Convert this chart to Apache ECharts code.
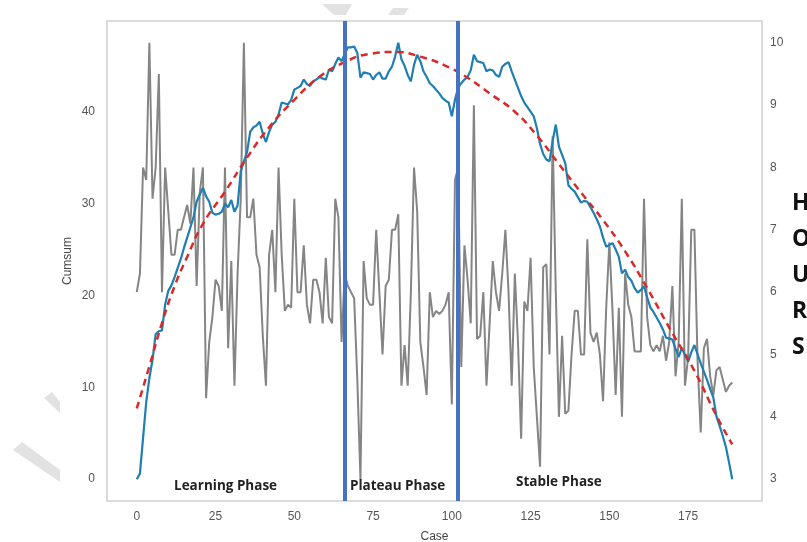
<!DOCTYPE html>
<html>
<head>
<meta charset="utf-8">
<script src="https://cdn.jsdelivr.net/npm/echarts@6/dist/echarts.min.js"></script>
<style>
html,body{margin:0;padding:0;background:#fff;}
#c{width:807px;height:542px;}
</style>
</head>
<body>
<div id="c"></div>
<script>
// Operating hours per case (right axis)
const hours = [
 6.0, 6.3, 8.0, 7.8, 10.0, 7.5, 8.0, 9.5, 6.0, 8.0,
 7.3, 6.6, 6.6, 7.0, 7.0, 7.2, 7.4, 7.1, 8.0, 6.1,
 7.6, 8.0, 4.3, 5.2, 5.6, 6.2, 6.1, 5.7, 8.0, 5.1,
 6.5, 4.5, 6.3, 7.5, 10.0, 7.2, 7.2, 7.5, 6.6, 6.4,
 5.3, 4.5, 6.6, 7.0, 6.0, 8.0, 6.6, 5.7, 5.8, 5.75,
 7.5, 6.0, 6.0, 6.75, 5.8, 5.5, 6.2, 6.2, 6.0, 5.5,
 6.55, 5.6, 5.5, 7.5, 7.2, 5.2, 6.3, 6.1, 6.0, 5.9,
 4.6, 3.0, 6.5, 5.9, 5.8, 5.8, 7.0, 6.0, 5.0, 6.1,
 6.2, 7.0, 7.0, 7.25, 4.5, 5.15, 4.5, 6.0, 8.0, 7.3,
 5.2, 4.8, 4.35, 6.0, 5.6, 5.7, 5.65, 5.7, 5.8, 6.0,
 4.2, 7.8, 8.0, 4.8, 6.75, 6.2, 5.5, 9.0, 5.25, 5.3,
 6.0, 4.5, 5.5, 6.5, 6.0, 5.7, 6.3, 7.0, 6.0, 4.5,
 6.3, 5.2, 3.65, 5.85, 5.7, 6.55, 4.8, 4.0, 3.2, 6.4,
 6.45, 5.0, 8.5, 6.0, 4.0, 5.3, 4.05, 4.1, 5.0, 5.7,
 5.7, 5.0, 5.0, 6.85, 5.35, 5.2, 5.35, 5.0, 4.25, 5.75,
 6.8, 5.7, 4.35, 5.75, 4.0, 6.3, 5.8, 5.6, 5.05, 5.05,
 5.05, 7.5, 5.6, 5.15, 5.05, 5.15, 5.05, 5.3, 4.9, 5.2,
 6.1, 4.65, 5.2, 7.5, 4.5, 4.95, 7.0, 7.0, 4.9, 3.75,
 5.1, 5.25, 4.65, 4.35, 4.75, 4.8, 4.6, 4.4, 4.5, 4.55
];
// CUSUM per case (left axis)
const cumsum = [
 0, 0.6, 4.5, 8.4, 11.0, 13.0, 15.8, 16.1, 16.2, 19.0,
 20.5, 21.1, 22.0, 23.0, 24.0, 25.2, 26.3, 27.4, 28.5, 30.2,
 31.0, 31.7, 30.8, 30.2, 29.0, 28.8, 28.9, 29.1, 30.0, 29.6,
 30.4, 29.1, 29.8, 33.5, 34.6, 35.6, 37.8, 38.3, 38.5, 38.9,
 37.6, 36.7, 37.8, 38.6, 38.9, 39.7, 41.0, 40.9, 40.8, 41.3,
 42.4, 42.6, 42.8, 43.5, 43.0, 42.8, 43.3, 43.5, 43.8, 43.6,
 43.5, 44.6, 44.4, 45.2, 45.9, 45.5, 46.3, 47.0, 47.0, 47.1,
 46.4, 43.7, 44.3, 44.2, 44.1, 43.5, 44.0, 44.3, 43.6, 43.6,
 44.4, 44.9, 46.0, 47.5, 45.7, 45.0, 44.0, 43.3, 45.1, 46.2,
 45.5, 44.4, 43.8, 43.1, 42.8, 42.4, 42.0, 41.5, 41.2, 41.0,
 39.5, 41.3, 42.6, 43.1, 43.5, 43.8, 44.5, 46.2, 45.5, 45.4,
 45.3, 44.4, 44.6, 44.5, 44.0, 43.8, 44.9, 45.2, 45.4, 44.4,
 43.5, 42.6, 41.7, 41.0, 40.5, 40.0, 39.5, 38.2, 36.5, 35.4,
 34.8, 34.6, 36.8, 38.6, 36.2, 35.3, 34.4, 32.0, 31.6, 31.3,
 30.7, 30.1, 30.3, 30.2, 29.6, 29.0, 28.3, 27.5, 26.3, 25.3,
 25.5, 25.7, 25.0, 24.2, 22.4, 22.8, 22.0, 21.6, 20.8, 20.3,
 20.6, 21.0, 19.8, 18.7, 18.2, 17.6, 17.0, 16.3, 15.4, 15.3,
 15.2, 14.2, 13.3, 14.3, 13.5, 12.8, 13.8, 14.6, 13.6, 12.6,
 11.7, 10.8, 9.8, 8.9, 6.8, 5.8, 4.7, 3.5, 1.8, 0.0
];
// Fitted trend curve, read at selected cases
const fitCases  = [0, 4, 8, 12, 16, 21, 28, 35, 42, 50, 58, 66, 74, 82, 90, 98, 105, 112, 120, 127, 134, 141, 148, 155, 162, 170, 177, 184, 189];
const fitValues = [7.7, 12.3, 17.0, 21.0, 24.2, 27.8, 31.3, 35.0, 38.3, 41.3, 43.8, 45.4, 46.3, 46.5, 46.0, 45.0, 43.7, 42.0, 40.0, 37.4, 34.3, 31.2, 28.2, 24.8, 20.8, 15.9, 11.8, 6.9, 3.8];
// Phase boundaries (case numbers)
const phaseBounds = [66, 102];
const phaseNames = ['Learning Phase', 'Plateau Phase', 'Stable Phase'];
const xTicks = [0, 25, 50, 75, 100, 125, 150, 175];
const leftTicks = [0, 10, 20, 30, 40];
const rightTicks = [3, 4, 5, 6, 7, 8, 9, 10];
const sideWord = ['H', 'O', 'U', 'R', 'S'];

const chart = echarts.init(document.getElementById('c'), null, {renderer: 'canvas'});
const lblColor = '#555';
const tickFont = 'Liberation Sans';

const graphics = [];
// watermark fragments
const wm = '#e2e2e2';
graphics.push({type:'polygon', shape:{points:[[322,4],[352,4],[346,15],[334,15]]}, style:{fill:wm}, silent:true, z:0});
graphics.push({type:'polygon', shape:{points:[[393,8],[409,8],[404,15],[388,15]]}, style:{fill:wm}, silent:true, z:0});
graphics.push({type:'polygon', shape:{points:[[44,398],[52,392],[60,402],[60,413]]}, style:{fill:wm}, silent:true, z:0});
graphics.push({type:'polygon', shape:{points:[[13,450],[22,442],[60,470],[60,482]]}, style:{fill:wm}, silent:true, z:0});
// phase labels
const phaseLabelPos = [[174, 488], [350, 488], [516, 484]];
phaseNames.forEach((t, i) => {
  graphics.push({type:'text', left: phaseLabelPos[i][0], top: phaseLabelPos[i][1] - 9,
    style:{text:t, font:'bold 13.5px "Open Sans"', fill:'#222'}, z:100});
});
// side word
const sideY = [207, 243, 279, 315, 351];
sideWord.forEach((t, i) => {
  graphics.push({type:'text', left: 792, top: sideY[i] - 15,
    style:{text:t, font:'bold 23px "Open Sans"', fill:'#111'}, z:100});
});

chart.setOption({
  animation: false,
  backgroundColor: '#fff',
  grid: {left:107, right:45, top:21, bottom:41, outerBoundsMode:'none', containLabel:false,
         show:true, borderColor:'#cfcfcf', borderWidth:1.5, backgroundColor:'transparent'},
  xAxis: {
    type:'value', min:-9.45, max:198.45,
    name:'Case', nameLocation:'middle', nameGap:30, nameMoveOverlap:false,
    nameTextStyle:{fontSize:12, color:'#444', fontFamily:tickFont},
    axisLine:{show:false}, axisTick:{show:false}, splitLine:{show:false},
    axisLabel:{customValues:xTicks, margin:10, fontSize:12, color:lblColor, fontFamily:tickFont}
  },
  yAxis: [{
    type:'value', min:-2.375, max:49.875,
    name:'Cumsum', nameLocation:'middle', nameGap:33, nameMoveOverlap:false,
    nameTextStyle:{fontSize:12, color:'#444', fontFamily:tickFont},
    axisLine:{show:false}, axisTick:{show:false}, splitLine:{show:false},
    axisLabel:{customValues:leftTicks, margin:12, fontSize:12, color:lblColor, fontFamily:tickFont}
  }, {
    type:'value', min:2.65, max:10.35, position:'right',
    axisLine:{show:false}, axisTick:{show:false}, splitLine:{show:false},
    axisLabel:{customValues:rightTicks, margin:8, fontSize:12, color:lblColor, fontFamily:tickFont}
  }],
  series: [
    {
      type:'line', yAxisIndex:1, showSymbol:false, symbol:'none',
      data: hours.map((v, i) => [i, v]),
      lineStyle:{color:'#858585', width:2}, z:2
    },
    {
      type:'line', yAxisIndex:0, showSymbol:false, symbol:'none',
      data: cumsum.map((v, i) => [i, v]),
      lineStyle:{color:'#1f7fb2', width:2.2}, z:3
    },
    {
      type:'line', yAxisIndex:0, showSymbol:false, symbol:'none', smooth:0.5,
      data: fitCases.map((c, i) => [c, fitValues[i]]),
      lineStyle:{color:'#d92a2a', width:2.5, type:[7,5]}, z:4
    },
    {
      type:'line', yAxisIndex:0, data:[], z:5,
      markLine:{
        silent:true, symbol:['none','none'], label:{show:false},
        lineStyle:{color:'#4472c4', width:4, type:'solid'},
        data: phaseBounds.map(b => ({xAxis:b}))
      }
    }
  ],
  graphic: graphics
});
</script>
</body>
</html>
